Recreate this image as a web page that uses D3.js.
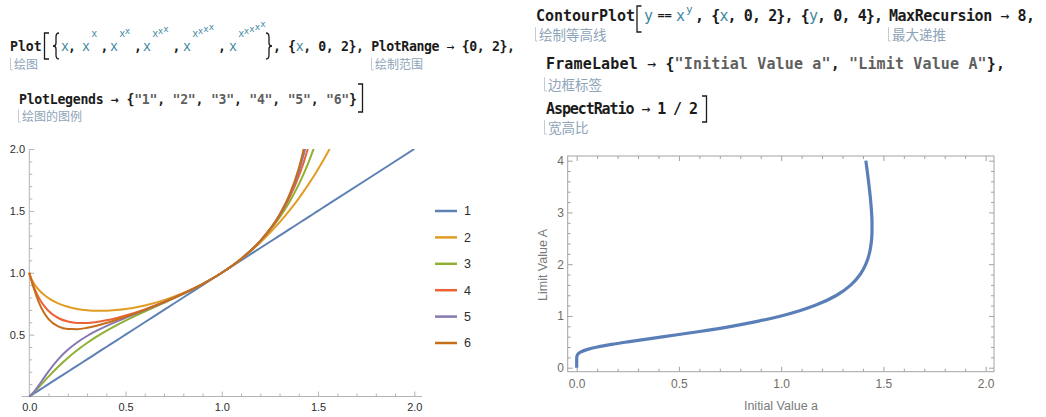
<!DOCTYPE html>
<html>
<head>
<meta charset="utf-8">
<script src="https://cdn.jsdelivr.net/npm/d3@7"></script>
<style>
  body { margin: 0; background: #fff; }
  svg { display: block; }
  text { white-space: pre; }
</style>
</head>
<body>
<svg id="chart" width="1046" height="417"></svg>
<script>
// ---------- Power towers x, x^x, x^x^x, ... sampled on x ----------
const towerX = [0, 0.001, 0.005, 0.01, 0.025, 0.05, 0.075, 0.1, 0.15, 0.2, 0.25, 0.3, 0.35, 0.4, 0.45, 0.5,
  0.6, 0.7, 0.8, 0.9, 1.0, 1.1, 1.2, 1.3, 1.35, 1.4, 1.42, 1.43, 1.44, 1.45, 1.475, 1.5, 1.55, 1.56, 2.0];

const tower1 = [0, 0.001, 0.005, 0.01, 0.025, 0.05, 0.075, 0.1, 0.15, 0.2, 0.25, 0.3, 0.35, 0.4, 0.45, 0.5,
  0.6, 0.7, 0.8, 0.9, 1.0, 1.1, 1.2, 1.3, 1.35, 1.4, 1.42, 1.43, 1.44, 1.45, 1.475, 1.5, 1.55, 1.56, 2.0];
const tower2 = [1, 0.99312, 0.97386, 0.95500, 0.91190, 0.86089, 0.82343, 0.79433, 0.75236, 0.72478, 0.70711,
  0.69684, 0.69250, 0.69314, 0.69813, 0.70711, 0.73602, 0.77908, 0.83652, 0.90953, 1, 1.11053, 1.24456,
  1.40644, 1.49951, 1.60169, 1.64533, 1.66775, 1.69060, 1.71391, 1.77409, 1.83712, 1.97250, 2.00117, null];
const tower3 = [0, 0.001048, 0.005743, 0.012302, 0.034607, 0.075849, 0.11850, 0.16057, 0.23994, 0.31146,
  0.37521, 0.43217, 0.48337, 0.52987, 0.57268, 0.61255, 0.68663, 0.75738, 0.82972, 0.90862, 1, 1.11165,
  1.25471, 1.44628, 1.56831, 1.71419, 1.78064, 1.81580, 1.85240, 1.89050, 1.99279, 2.10626, null, null, null];
const tower4 = [1, 0.99279, 0.97003, 0.94492, 0.88015, 0.79674, 0.73570, 0.69093, 0.63434, 0.60575, 0.59442,
  0.59432, 0.60203, 0.61538, 0.63302, 0.65404, 0.70417, 0.76327, 0.83099, 0.90871, 1, 1.11177, 1.25703,
  1.46147, 1.60103, 1.78032, 1.86716, 1.91455, 1.96498, 2.01869, null, null, null, null, null];
const tower5 = [0, 0.001051, 0.005860, 0.012887, 0.038893, 0.091903, 0.14872, 0.20372, 0.30016, 0.37722,
  0.43867, 0.48894, 0.53152, 0.56902, 0.60322, 0.63551, 0.69789, 0.76166, 0.83075, 0.90870, 1, 1.11178,
  1.25756, 1.46730, 1.61683, 1.82038, 1.92468, 1.98337, 2.04733, null, null, null, null, null, null];
const tower6 = [1, 0.99277, 0.96943, 0.94238, 0.86635, 0.75933, 0.68031, 0.62555, 0.56584, 0.54492, 0.54437,
  0.55505, 0.57237, 0.59370, 0.61775, 0.64373, 0.70013, 0.76210, 0.83079, 0.90870, 1, 1.11178, 1.25769,
  1.46955, 1.62451, 1.84508, 1.96390, 2.03280, null, null, null, null, null, null, null];

const legendLabels = ["1", "2", "3", "4", "5", "6"];
const seriesColors = ["#5e81b5", "#e19c24", "#8fb032", "#eb6235", "#8778b3", "#c56e1a"];
const plotXTicks = [0, 0.5, 1, 1.5, 2];
const plotYTicks = [0.5, 1, 1.5, 2];

// ---------- Contour y == x^y : limit value A against initial value a ----------
const limitA = [0, 0.1, 0.2, 0.25, 0.3, 0.35, 0.4, 0.45, 0.5, 0.6, 0.7, 0.8, 0.9, 1.0, 1.1, 1.2, 1.4, 1.6,
  1.8, 2.0, 2.2, 2.4, 2.6, 2.8, 3.0, 3.2, 3.4, 3.6, 3.8, 4.0];
const initialA = [0, 0, 0.0003, 0.0039, 0.0181, 0.0498, 0.1012, 0.1696, 0.25, 0.4269, 0.6008, 0.7566, 0.8895,
  1, 1.0905, 1.1641, 1.2717, 1.3415, 1.3862, 1.4142, 1.4310, 1.4402, 1.4441, 1.4444, 1.4422, 1.4383, 1.4332,
  1.4273, 1.4209, 1.4142];
const contourXTicks = [0, 0.5, 1, 1.5, 2];
const contourYTicks = [0, 1, 2, 3, 4];

const svg = d3.select("#chart");

// ---------- notebook input text ----------
const codeFont = "'DejaVu Sans Mono', monospace";
const hintFont = "'Noto Sans CJK SC', sans-serif";
const ink = "#1b1b1b";
const teal = "#3f879f";
const strInk = "#5f5f5f";
const hintInk = "#8ea4b9";

function run(x, y, parts, size, len) {
  const t = svg.append("text").attr("x", x).attr("y", y)
    .attr("font-family", codeFont).attr("font-size", size);
  parts.forEach(([s, c, w]) => {
    t.append("tspan").attr("fill", c || ink).attr("font-weight", w || "bold").text(s);
  });
  if (len) t.attr("textLength", len).attr("lengthAdjust", "spacing");
  return t;
}
function hint(x, y, s, size) {
  svg.append("path")
    .attr("d", `M${x - 2.5},${y - size * 0.95}V${y + 1}h2.5`)
    .attr("fill", "none").attr("stroke", "#c3ccd5").attr("stroke-width", 1);
  svg.append("text").attr("x", x + 1).attr("y", y)
    .attr("font-family", hintFont).attr("font-size", size).attr("fill", hintInk).text(s);
}
function squareBracket(x, y0, y1, open) {
  const d = open ? `M${x + 4.5},${y0}H${x}V${y1}H${x + 4.5}` : `M${x},${y0}H${x + 4.5}V${y1}H${x}`;
  svg.append("path").attr("d", d).attr("fill", "none").attr("stroke", ink).attr("stroke-width", 1.3);
}
// tall curly brace drawn as a stroke; dir = 1 opens to the right, -1 closes
function curlyBrace(cx, y0, y1, dir) {
  const m = (y0 + y1) / 2, w = 3 * dir;
  const d = `M${cx + w},${y0}Q${cx},${y0} ${cx},${y0 + 4}V${m - 3}Q${cx},${m} ${cx - w},${m}` +
            `Q${cx},${m} ${cx},${m + 3}V${y1 - 4}Q${cx},${y1} ${cx + w},${y1}`;
  svg.append("path").attr("d", d).attr("fill", "none").attr("stroke", ink).attr("stroke-width", 1.3);
}

// Plot[{x, x^x, ...}, {x, 0, 2}, PlotRange -> {0, 2},
run(10, 51, [["Plot"]], 13.2, 31.7);
squareBracket(44.5, 33, 59, true);
curlyBrace(56, 33, 59, 1);
const baseXs = [61, 82, 110, 143, 183, 229];
baseXs.forEach((bx, n) => {
  svg.append("text").attr("x", bx).attr("y", 51).attr("font-family", codeFont)
    .attr("font-size", 13.2).attr("fill", teal).text("x");
  for (let k = 1; k <= n; k++) {
    svg.append("text")
      .attr("x", bx + 9.2 + (k - 1) * 5.5)
      .attr("y", 36.5 - (k - 1) * 2.3)
      .attr("font-family", codeFont).attr("font-size", k === 1 ? 10 : 9)
      .attr("fill", teal).text("x");
  }
  if (n < 5) {
    const cx = n === 0 ? 68 : bx + 10 + n * 5.5 + 3;
    run(cx, 51, [[","]], 13.2);
  }
});
curlyBrace(269, 33, 59, -1);
run(273, 51, [[", {"], ["x", teal, "normal"], [", 0, 2}, PlotRange"], [" "], ["→", ink, "normal"], [" {0, 2},"]], 13.2, 242);
hint(13, 69, "绘图", 12);
hint(374, 69, "绘制范围", 12);

// PlotLegends -> {"1", ..., "6"}]
const legParts = [["PlotLegends → {"]];
legendLabels.forEach((l, i) => {
  legParts.push([`"${l}"`, strInk]);
  if (i < legendLabels.length - 1) legParts.push([", "]);
});
legParts.push(["}"]);
run(19, 104, legParts, 13.2, 338);
squareBracket(358, 84, 112, false);
hint(21, 121, "绘图的图例", 12);

// ContourPlot[y == x^y, {x, 0, 2}, {y, 0, 4}, MaxRecursion -> 8,
run(536, 21, [["ContourPlot"]], 15, 99);
squareBracket(637, 6, 32, true);
svg.append("text").attr("x", 644).attr("y", 21).attr("font-family", codeFont)
  .attr("font-size", 15).attr("fill", teal).text("y");
svg.append("text").attr("x", 657).attr("y", 19).attr("font-family", "'DejaVu Sans', sans-serif")
  .attr("font-size", 10).attr("font-weight", "bold").attr("letter-spacing", -1.5).attr("fill", ink).text("==");
svg.append("text").attr("x", 676).attr("y", 21).attr("font-family", codeFont)
  .attr("font-size", 15).attr("fill", teal).text("x");
svg.append("text").attr("x", 686).attr("y", 13).attr("font-family", codeFont)
  .attr("font-size", 11).attr("fill", teal).text("y");
run(695, 21, [[", {"], ["x", teal, "normal"], [", 0, 2}, {"], ["y", teal, "normal"], [", 0, 4},"]], 15, 188);
run(889, 21, [["MaxRecursion "], ["→", ink, "normal"], [" 8,"]], 15, 146);
hint(538, 40, "绘制等高线", 13.5);
hint(891, 40, "最大递推", 13.5);

// FrameLabel -> {"Initial Value a", "Limit Value A"},
run(546, 69, [["FrameLabel "], ["→", ink, "normal"], [" {"], ['"Initial Value a"', strInk], [", "],
  ['"Limit Value A"', strInk], ["},"]], 15, 459);
hint(547, 90, "边框标签", 13.5);

// AspectRatio -> 1/2]
run(546, 114, [["AspectRatio "], ["→", ink, "normal"], [" 1 / 2"]], 15, 152);
squareBracket(702, 96, 122, false);
hint(547, 133, "宽高比", 13.5);

// ---------- left plot: power towers ----------
const xL = d3.scaleLinear().domain([0, 2]).range([29.3, 414.3]);
const yL = d3.scaleLinear().domain([0, 2]).range([396.5, 149]);
const axisGray = "#b4b4b4";
const tickFont = "'Liberation Sans', Arial, sans-serif";

const left = svg.append("g");
left.append("defs").append("clipPath").attr("id", "plotClip")
  .append("rect").attr("x", 0).attr("y", yL(2)).attr("width", 440).attr("height", yL(0) - yL(2) + 3);

const series = [tower1, tower2, tower3, tower4, tower5, tower6];
const line = d3.line()
  .defined(d => d[1] !== null)
  .x(d => xL(d[0])).y(d => yL(d[1]))
  .curve(d3.curveMonotoneX);

// axes
const xMinor = d3.range(0, 2.0001, 0.1).filter(v => Math.abs(v * 2 - Math.round(v * 2)) > 1e-6);
const yMinor = d3.range(0.1, 2.0001, 0.1).filter(v => Math.abs(v * 2 - Math.round(v * 2)) > 1e-6);

const gx = left.append("g").attr("transform", `translate(0,${yL(0)})`)
  .call(d3.axisBottom(xL).tickValues(plotXTicks).tickFormat(d3.format(".1f"))
    .tickSizeInner(-5).tickSizeOuter(0).tickPadding(6.3));
const gxm = left.append("g").attr("transform", `translate(0,${yL(0)})`)
  .call(d3.axisBottom(xL).tickValues(xMinor).tickFormat("").tickSizeInner(-3).tickSizeOuter(0));
const gy = left.append("g").attr("transform", `translate(${xL(0)},0)`)
  .call(d3.axisLeft(yL).tickValues(plotYTicks).tickFormat(d3.format(".1f"))
    .tickSizeInner(-5).tickSizeOuter(0).tickPadding(4.3));
const gym = left.append("g").attr("transform", `translate(${xL(0)},0)`)
  .call(d3.axisLeft(yL).tickValues(yMinor).tickFormat("").tickSizeInner(-3).tickSizeOuter(0));
[gx, gxm, gy, gym].forEach(g => {
  g.select(".domain").remove();
  g.selectAll(".tick line").attr("stroke", axisGray);
  g.selectAll(".tick text").attr("font-family", tickFont).attr("font-size", 11).attr("fill", "#2e2e2e");
});
left.append("line").attr("x1", xL(-0.04)).attr("x2", xL(2.04)).attr("y1", yL(0)).attr("y2", yL(0))
  .attr("stroke", axisGray).attr("stroke-width", 1);
left.append("line").attr("x1", xL(0)).attr("x2", xL(0)).attr("y1", yL(0)).attr("y2", yL(2))
  .attr("stroke", axisGray).attr("stroke-width", 1);

const curves = left.append("g").attr("clip-path", "url(#plotClip)");
series.forEach((vals, i) => {
  curves.append("path")
    .datum(towerX.map((x, j) => [x, vals[j]]))
    .attr("d", line)
    .attr("fill", "none")
    .attr("stroke", seriesColors[i])
    .attr("stroke-width", 2)
    .attr("stroke-linejoin", "round");
});

// legend
const legend = left.append("g");
legendLabels.forEach((lab, i) => {
  const y = 211 + i * 26.4;
  legend.append("line").attr("x1", 435).attr("x2", 457).attr("y1", y).attr("y2", y)
    .attr("stroke", seriesColors[i]).attr("stroke-width", 2.5);
  legend.append("text").attr("x", 464).attr("y", y + 4.3)
    .attr("font-family", tickFont).attr("font-size", 12.5).attr("fill", "#2e2e2e").text(lab);
});

// ---------- right plot: contour of y == x^y ----------
const xR = d3.scaleLinear().domain([-0.044, 2.041]).range([567.7, 994]);
const yR = d3.scaleLinear().domain([-0.077, 4.09]).range([371.7, 156]);
const frameGray = "#a3a3a3";
const frameLabelInk = "#716b66";

const right = svg.append("g");
const rxMinor = d3.range(0, 2.0001, 0.1).filter(v => Math.abs(v * 2 - Math.round(v * 2)) > 1e-6);
const ryMinor = d3.range(0, 4.0001, 0.2).filter(v => Math.abs(v - Math.round(v)) > 1e-6);

function frameAxis(axis, tx, ty, vals, labels, size) {
  const g = right.append("g").attr("transform", `translate(${tx},${ty})`)
    .call(axis.tickValues(vals).tickFormat(labels ? labels : "").tickSizeInner(-size).tickSizeOuter(0));
  g.select(".domain").remove();
  g.selectAll(".tick line").attr("stroke", frameGray);
  g.selectAll(".tick text").attr("font-family", tickFont).attr("font-size", 12).attr("fill", frameLabelInk);
  return g;
}
frameAxis(d3.axisBottom(xR).tickPadding(7.8), 0, yR.range()[0], contourXTicks, d3.format(".1f"), 5);
frameAxis(d3.axisBottom(xR), 0, yR.range()[0], rxMinor, null, 3);
frameAxis(d3.axisTop(xR), 0, yR.range()[1], contourXTicks, null, 5);
frameAxis(d3.axisTop(xR), 0, yR.range()[1], rxMinor, null, 3);
frameAxis(d3.axisLeft(yR).tickPadding(3.7), xR.range()[0], 0, contourYTicks, d3.format("d"), 5);
frameAxis(d3.axisLeft(yR), xR.range()[0], 0, ryMinor, null, 3);
frameAxis(d3.axisRight(yR), xR.range()[1], 0, contourYTicks, null, 5);
frameAxis(d3.axisRight(yR), xR.range()[1], 0, ryMinor, null, 3);

right.append("rect")
  .attr("x", xR.range()[0]).attr("y", yR.range()[1])
  .attr("width", xR.range()[1] - xR.range()[0]).attr("height", yR.range()[0] - yR.range()[1])
  .attr("fill", "none").attr("stroke", frameGray).attr("stroke-width", 1);

const contourLine = d3.line()
  .x(d => xR(d[0])).y(d => yR(d[1]))
  .curve(d3.curveMonotoneY);
right.append("path")
  .datum(initialA.map((a, i) => [a, limitA[i]]))
  .attr("d", contourLine)
  .attr("fill", "none")
  .attr("stroke", "#5a7fb8")
  .attr("stroke-width", 3.2)
  .attr("stroke-linejoin", "round");

right.append("text").attr("x", 781).attr("y", 410).attr("text-anchor", "middle")
  .attr("font-family", tickFont).attr("font-size", 12.5).attr("fill", "#7a7a7a").text("Initial Value a");
right.append("text").attr("transform", "translate(547,265) rotate(-90)").attr("text-anchor", "middle")
  .attr("font-family", tickFont).attr("font-size", 12.5).attr("fill", "#7a7a7a").text("Limit Value A");
</script>
</body>
</html>
